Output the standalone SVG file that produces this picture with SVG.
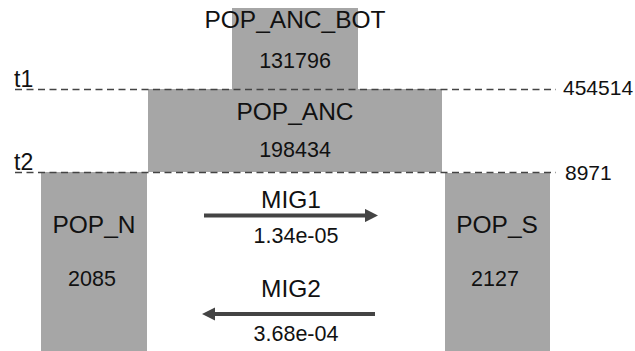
<svg xmlns="http://www.w3.org/2000/svg" width="635" height="351" viewBox="0 0 635 351">
<style>
.box{fill:#a6a6a6}
.lbl{font-family:"Liberation Sans",Arial,sans-serif;font-size:24.5px;fill:#111;text-anchor:middle}
.num{font-family:"Liberation Sans",Arial,sans-serif;font-size:21.5px;fill:#111;text-anchor:middle}
.side{font-family:"Liberation Sans",Arial,sans-serif;font-size:21px;fill:#111}
.tl{font-family:"Liberation Sans",Arial,sans-serif;font-size:23px;fill:#111}
.dash{stroke:#444;stroke-width:1.6;stroke-dasharray:7 4.5;fill:none}
.arr{stroke:#444;stroke-width:4;fill:none}
</style>
<defs>
<marker id="ah" viewBox="0 0 10 10" refX="0" refY="5" markerWidth="3.3" markerHeight="3.3" orient="auto" markerUnits="strokeWidth">
<path d="M0,0 L10,5 L0,10 z" fill="#444"/>
</marker>
</defs>
<rect width="635" height="351" fill="#fff"/>
<g id="POP_ANC_BOT">
<rect class="box" x="232" y="8" width="126" height="81"/>
<text class="lbl" x="295" y="28">POP_ANC_BOT</text>
<text class="num" x="295" y="68">131796</text>
</g>
<g id="POP_ANC">
<rect class="box" x="148" y="89" width="294" height="83"/>
<text class="lbl" x="295" y="120">POP_ANC</text>
<text class="num" x="295" y="157">198434</text>
</g>
<g id="POP_N">
<rect class="box" x="41" y="172" width="106" height="179"/>
<text class="lbl" x="94" y="233">POP_N</text>
<text class="num" x="92" y="286">2085</text>
</g>
<g id="POP_S">
<rect class="box" x="445" y="173" width="105" height="178"/>
<text class="lbl" x="497" y="233">POP_S</text>
<text class="num" x="495" y="286">2127</text>
</g>
<g id="times">
<line class="dash" x1="15" y1="89.5" x2="556" y2="89.5"/>
<line class="dash" x1="15" y1="172.5" x2="556" y2="172.5"/>
<text class="tl" x="14" y="87">t1</text>
<text class="tl" x="14" y="170">t2</text>
<text class="side" x="563" y="95">454514</text>
<text class="side" x="565" y="180">8971</text>
</g>
<g id="connectors">
<line class="arr" x1="204" y1="215.5" x2="365" y2="215.5" marker-end="url(#ah)"/>
<line class="arr" x1="375" y1="314" x2="215" y2="314" marker-end="url(#ah)"/>
<text class="lbl" x="291" y="208">MIG1</text>
<text class="num" x="296" y="243">1.34e-05</text>
<text class="lbl" x="291" y="297">MIG2</text>
<text class="num" x="296" y="341">3.68e-04</text>
</g>
</svg>
